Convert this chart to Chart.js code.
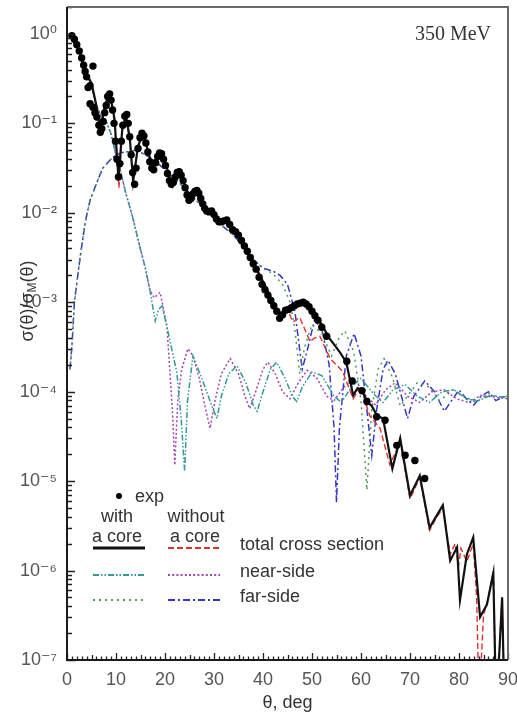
<!DOCTYPE html>
<html><head><meta charset="utf-8">
<script src="https://cdn.jsdelivr.net/npm/chart.js@4.4.1/dist/chart.umd.min.js"></script>
<style>html,body{margin:0;padding:0;background:#fff;}#wrap{position:relative;width:517px;height:716px;}</style>
</head><body><div id="wrap"><canvas id="c" width="517" height="716"></canvas></div>
<script>
// ---- data (theta in deg, values given as log10 of sigma/sigma_M) ----
const expTheta = [1.0,1.5,2.0,2.5,3.0,3.4,3.7,4.0,4.3,4.7,4.7,5.3,5.3,5.7,6.1,6.5,6.8,7.1,7.4,7.7,8.0,8.3,8.7,9.0,9.3,9.6,9.9,10.2,10.5,10.8,11.1,11.4,11.8,12.2,12.5,12.8,13.1,13.4,13.8,14.1,14.5,14.9,15.3,15.7,16.1,16.5,16.9,17.3,17.7,18.1,18.5,18.9,19.3,19.7,20.1,20.5,20.9,21.3,21.7,22.1,22.5,22.9,23.3,23.7,24.1,24.5,24.9,25.3,25.7,26.1,26.5,26.9,27.3,27.7,28.1,28.5,29.0,29.5,30.0,30.5,31.0,31.5,32.0,32.6,33.2,33.8,34.4,35.0,35.6,36.2,36.8,37.4,38.0,38.6,39.2,39.8,40.4,41.0,41.6,42.2,42.8,43.4,44.0,44.6,45.2,45.8,46.4,47.0,47.6,48.2,48.8,49.4,50.0,50.6,51.2,52.0,53.0,57.1,58.2,60.2,61.2,63.2,64.9,67.3,69.0,71.0,73.0];
const expLog10 = [-0.02,-0.06,-0.12,-0.19,-0.27,-0.35,-0.42,-0.48,-0.6,-0.58,-0.78,-0.36,-0.82,-0.88,-0.93,-1.02,-1.1,-1.06,-0.98,-0.88,-0.8,-0.7,-0.67,-0.74,-0.85,-1.0,-1.2,-1.4,-1.6,-1.45,-1.2,-1.02,-0.92,-0.9,-1.0,-1.15,-1.35,-1.55,-1.68,-1.5,-1.28,-1.16,-1.11,-1.14,-1.22,-1.32,-1.43,-1.5,-1.52,-1.44,-1.37,-1.33,-1.34,-1.4,-1.47,-1.56,-1.64,-1.68,-1.66,-1.6,-1.55,-1.54,-1.58,-1.64,-1.72,-1.8,-1.86,-1.84,-1.79,-1.76,-1.75,-1.78,-1.84,-1.9,-1.95,-1.98,-1.99,-1.98,-2.02,-2.07,-2.1,-2.1,-2.09,-2.08,-2.13,-2.19,-2.21,-2.25,-2.31,-2.37,-2.43,-2.5,-2.57,-2.63,-2.72,-2.8,-2.86,-2.92,-2.98,-3.04,-3.1,-3.18,-3.14,-3.09,-3.08,-3.06,-3.04,-3.02,-3.01,-3.0,-3.02,-3.05,-3.1,-3.15,-3.2,-3.28,-3.38,-3.66,-3.88,-3.99,-4.11,-4.28,-4.32,-4.6,-4.71,-4.77,-4.97];

const totCoreTheta = [0.5,1,2,3,4,5,6,6.8,7.8,8.8,9.7,10.5,11.3,12,12.8,13.5,14.5,15.5,16.5,17.6,18.4,19.2,20.3,21.5,22.3,23,24,25,25.8,26.7,27.6,28.5,29.5,31.2,32.6,34,35.3,36.7,38,39.4,41,42.5,43.5,44.9,46.5,47.5,49,50.5,52.2,53.5,55.7,57,58.4,59.3,60.2,61.2,62.2,63.3,64.5,66.4,68,70,72,74,75.5,76.7,78.2,79.6,80.2,81.6,82.9,84.3,85.7,87,87.6,88.8,89.3];
const totCoreLog10 = [0,-0.01,-0.12,-0.27,-0.45,-0.55,-0.8,-1.08,-0.78,-0.68,-0.95,-1.62,-1.05,-0.92,-1.15,-1.65,-1.25,-1.12,-1.3,-1.52,-1.38,-1.33,-1.48,-1.7,-1.6,-1.55,-1.68,-1.86,-1.8,-1.75,-1.88,-1.97,-1.99,-2.11,-2.1,-2.19,-2.27,-2.41,-2.56,-2.7,-2.88,-3.05,-3.15,-3.08,-3.05,-3.0,-3.02,-3.12,-3.27,-3.4,-3.56,-3.67,-4.04,-3.96,-3.98,-4.11,-4.16,-4.27,-4.3,-4.86,-4.52,-5.16,-4.94,-5.52,-5.38,-5.27,-5.89,-5.74,-6.33,-5.82,-5.63,-6.52,-6.38,-6.03,-7.6,-6.3,-7.6];

const totNoCoreTheta = [0.5,1,2,3,4,5,6,6.8,7.8,8.8,9.7,10.6,11.3,12,12.8,13.5,14.5,15.5,16.5,17.6,18.4,19.2,20.3,21.5,22.3,23,24,25,25.8,26.7,27.6,28.5,29.5,31.2,32.6,34,35.3,36.7,38,39.4,41,42.5,43.5,45,46.1,47.5,49.6,50.5,51.6,53.7,55,56.3,58.4,59.5,60.5,61.8,63.9,65.9,68,70,72,74,75.5,76.7,78.2,79.2,79.9,80.4,81.6,82.9,83.6,84.1,85,86,87,87.6,88.8,89.3];
const totNoCoreLog10 = [0,-0.01,-0.12,-0.27,-0.45,-0.55,-0.82,-1.1,-0.8,-0.7,-1.0,-1.72,-1.08,-0.94,-1.18,-1.62,-1.27,-1.14,-1.32,-1.5,-1.4,-1.35,-1.5,-1.7,-1.62,-1.57,-1.7,-1.86,-1.82,-1.77,-1.9,-1.98,-2.0,-2.13,-2.12,-2.21,-2.3,-2.44,-2.58,-2.72,-2.9,-3.05,-3.12,-3.08,-3.22,-3.17,-3.44,-3.4,-3.38,-3.63,-3.7,-3.78,-4.08,-3.98,-4.05,-4.27,-4.41,-4.82,-4.56,-5.2,-4.96,-5.55,-5.4,-5.3,-5.82,-5.7,-5.95,-5.75,-5.9,-5.7,-6.3,-7.5,-6.5,-6.3,-6.0,-7.6,-6.3,-7.6];

const nearCoreTheta = [0.5,1,2,3,4,5,6,7,8,9,10,11,12,13.5,15,16,16.9,17.5,18,18.7,19.4,20.5,22.4,23.3,24,24.6,25.7,27.5,29.5,30.6,31.5,33,34.7,36.5,38,38.8,40,41.5,42.8,44.5,46,46.9,48,50,52,54.5,56,58,60,62.5,64.5,66.5,69,71.5,74,76.5,79,81.5,84,86.5,90];
const nearCoreLog10 = [0,-0.01,-0.12,-0.27,-0.45,-0.58,-0.8,-0.92,-0.98,-1.12,-1.36,-1.55,-1.78,-2.07,-2.41,-2.62,-2.86,-3.05,-3.21,-3.08,-3.04,-3.3,-3.78,-4.3,-4.89,-4.1,-3.6,-3.85,-4.15,-4.3,-4.05,-3.8,-3.71,-3.9,-4.15,-4.22,-4.0,-3.75,-3.67,-3.85,-4.05,-4.11,-3.95,-3.78,-3.82,-4.05,-4.12,-3.95,-3.85,-4.02,-4.12,-3.98,-3.92,-4.05,-4.12,-4.0,-3.98,-4.08,-4.1,-4.04,-4.07];

const nearNoCoreTheta = [0.5,1,2,3,4,5,6,7,8,9,10,11,12,13.5,15,16,16.9,17.8,19,20.4,21,21.6,22,22.6,23.4,24.7,25.7,27,28.3,29.2,30.2,31.5,33.3,35,36.3,37.3,38.5,40,41,42.5,44,45.5,47,49,51,53,54.5,56.5,58.5,61,63,65,67,69.5,72,74.5,77,79.5,82,84.5,87,90];
const nearNoCoreLog10 = [0,-0.01,-0.12,-0.27,-0.45,-0.58,-0.8,-0.92,-0.98,-1.12,-1.36,-1.55,-1.78,-2.07,-2.41,-2.62,-2.86,-2.95,-2.89,-3.27,-3.78,-4.3,-4.82,-4.1,-3.75,-3.52,-3.6,-3.85,-4.2,-4.41,-4.1,-3.8,-3.63,-3.8,-4.05,-4.19,-4.0,-3.75,-3.67,-3.8,-4.0,-4.08,-3.92,-3.76,-3.85,-4.05,-4.1,-3.95,-3.85,-4.05,-4.15,-3.98,-3.9,-4.05,-4.12,-4.0,-3.98,-4.08,-4.12,-4.04,-4.06,-4.08];

const farCoreTheta = [0.6,1.0,1.5,2.7,3.7,4.7,6.1,7.3,8.8,9.8,11,12,14,16,18,20,22,24,26,28,30,32,34,36,38,40,42,44,45.5,46.5,47.5,48.5,50,52,54,55.5,56.7,58.5,60,61.2,62.2,63.5,64.7,66.5,68,69.5,71.5,74,76,78.8,81,83.5,86,88,90];
const farCoreLog10 = [-3.75,-3.5,-3.0,-2.49,-2.11,-1.86,-1.66,-1.5,-1.41,-1.36,-1.33,-1.32,-1.3,-1.35,-1.42,-1.52,-1.62,-1.72,-1.84,-1.95,-2.06,-2.16,-2.25,-2.38,-2.52,-2.62,-2.68,-2.8,-3.0,-3.3,-3.8,-3.5,-3.25,-3.35,-3.6,-3.4,-3.32,-3.55,-4.1,-5.1,-4.2,-3.75,-3.63,-3.85,-4.16,-4.05,-3.9,-3.95,-4.1,-3.98,-4.05,-4.12,-4.02,-4.06,-4.05];

const farNoCoreTheta = [0.6,1.0,1.5,2.7,3.7,4.7,6.1,7.3,8.8,9.8,11,12,14,16,18,20,22,24,26,28,30,32,34,36,38,40,42,43.5,45,46.5,48,49.2,50.5,52,53.5,54.5,55,55.6,57,58.6,60,61.2,62.2,63.2,64.5,65.5,67,68.5,69.5,70.8,73,75,77,78.5,80,81.5,83,84.5,86,87.5,89,90];
const farNoCoreLog10 = [-3.75,-3.5,-3.0,-2.49,-2.11,-1.86,-1.66,-1.5,-1.41,-1.36,-1.33,-1.32,-1.3,-1.35,-1.42,-1.52,-1.62,-1.72,-1.84,-1.95,-2.06,-2.16,-2.25,-2.38,-2.52,-2.62,-2.65,-2.7,-2.8,-3.1,-3.75,-3.5,-3.2,-3.3,-3.7,-4.4,-5.24,-4.4,-3.6,-3.35,-3.6,-4.2,-4.71,-4.2,-3.75,-3.65,-3.8,-4.1,-4.3,-4.05,-3.88,-4.0,-4.22,-4.1,-3.98,-4.08,-4.15,-4.05,-4.0,-4.1,-4.06,-4.05];

const yDecades = [-7,-6,-5,-4,-3,-2,-1,0];
const xTickValues = [0,10,20,30,40,50,60,70,80,90];

const pts = (xs, ls) => xs.map((x, i) => ({x: x, y: Math.pow(10, ls[i])}));
const SUP = {'0':'⁰','1':'¹','2':'²','3':'³','4':'⁴','5':'⁵','6':'⁶','7':'⁷','8':'⁸','9':'⁹','-':'⁻'};
const supStr = s => String(s).split('').map(c => SUP[c] || c).join('');
const FONT = "'Liberation Sans', Arial, 'DejaVu Sans', sans-serif";

const line = (label, xs, ls, color, width, dash, order) => ({
  label, data: pts(xs, ls), showLine: true, borderColor: color, backgroundColor: color,
  borderWidth: width, borderDash: dash, pointRadius: 0, tension: 0, order
});

const datasets = [
  {label: 'exp', data: pts(expTheta, expLog10), showLine: false, pointRadius: 3.7,
   pointBackgroundColor: '#000', pointBorderColor: '#000', pointBorderWidth: 0, order: 0},
  line('total cross section, with a core', totCoreTheta, totCoreLog10, '#111111', 2.2, [], 1),
  line('total cross section, without a core', totNoCoreTheta, totNoCoreLog10, '#e0302c', 1.4, [6, 3], 2),
  line('near-side, with a core', nearCoreTheta, nearCoreLog10, '#2f9a98', 1.5, [6, 2, 1.5, 2, 1.5, 2], 3),
  line('near-side, without a core', nearNoCoreTheta, nearNoCoreLog10, '#a545b0', 1.5, [2, 2.2], 4),
  line('far-side, with a core', farCoreTheta, farCoreLog10, '#4f9a58', 1.5, [2, 4], 5),
  line('far-side, without a core', farNoCoreTheta, farNoCoreLog10, '#3535c8', 1.5, [7, 3, 2, 3], 6)
];

const decoration = {
  id: 'decoration',
  afterDraw(chart) {
    const ctx = chart.ctx, a = chart.chartArea, xs = chart.scales.x, ys = chart.scales.y;
    ctx.save();
    // ticks (inside)
    ctx.strokeStyle = '#222'; ctx.lineWidth = 1.3;
    ctx.beginPath();
    for (let d = -7; d <= 0; d++) {
      for (let m = 1; m <= 9; m++) {
        const v = m * Math.pow(10, d);
        if (v > 2) continue;
        const y = Math.round(ys.getPixelForValue(v)) + 0.5;
        const len = m === 1 ? 8 : 5;
        ctx.moveTo(a.left, y); ctx.lineTo(a.left + len, y);
      }
    }
    for (let t = 0; t <= 90; t++) {
      const x = Math.round(xs.getPixelForValue(t)) + 0.5;
      const len = t % 10 === 0 ? 7 : (t % 5 === 0 ? 5 : 3.5);
      ctx.moveTo(x, a.bottom); ctx.lineTo(x, a.bottom - len);
    }
    ctx.stroke();
    // frame
    ctx.lineWidth = 2;
    ctx.strokeStyle = '#6a6a6a';
    ctx.beginPath(); ctx.moveTo(a.left, a.top); ctx.lineTo(a.right, a.top); ctx.lineTo(a.right, a.bottom); ctx.stroke();
    ctx.strokeStyle = '#1a1a1a';
    ctx.beginPath(); ctx.moveTo(a.left, a.top); ctx.lineTo(a.left, a.bottom); ctx.lineTo(a.right, a.bottom); ctx.stroke();

    // energy annotation
    ctx.fillStyle = '#333';
    ctx.font = "20px 'Liberation Serif', 'Times New Roman', serif";
    ctx.textAlign = 'center'; ctx.textBaseline = 'middle';
    ctx.fillText('350 MeV', 453, 35);

    // y-axis title with subscript
    ctx.save();
    ctx.translate(28, 301); ctx.rotate(-Math.PI / 2);
    const parts = [['σ(θ)/σ', 18, 0], ['M', 12, 5], ['(θ)', 18, 0]];
    let w = 0;
    parts.forEach(p => { ctx.font = p[1] + 'px ' + FONT; w += ctx.measureText(p[0]).width; });
    let px = -w / 2;
    ctx.textAlign = 'left'; ctx.fillStyle = '#333';
    parts.forEach(p => { ctx.font = p[1] + 'px ' + FONT; ctx.fillText(p[0], px, p[2]); px += ctx.measureText(p[0]).width; });
    ctx.restore();

    // legend
    const ds = chart.data.datasets;
    ctx.font = '18px ' + FONT; ctx.textBaseline = 'middle';
    ctx.fillStyle = '#000';
    ctx.beginPath(); ctx.arc(119, 496, 3, 0, Math.PI * 2); ctx.fill();
    ctx.fillStyle = '#333'; ctx.textAlign = 'left';
    ctx.fillText('exp', 135, 497);
    ctx.textAlign = 'center';
    ctx.fillText('with', 117, 517); ctx.fillText('a core', 117, 537);
    ctx.fillText('without', 196, 517); ctx.fillText('a core', 195, 537);
    const rows = [[1, 2, 548, 545, 'total cross section'], [3, 4, 575, 572, 'near-side'], [5, 6, 600, 597, 'far-side']];
    rows.forEach(r => {
      [[r[0], 93, 145], [r[1], 168, 220]].forEach(s => {
        const d = ds[s[0]];
        ctx.save();
        ctx.strokeStyle = d.borderColor;
        ctx.lineWidth = s[0] === 1 ? 3 : 1.8;
        ctx.setLineDash(d.borderDash);
        ctx.beginPath(); ctx.moveTo(s[1], r[2]); ctx.lineTo(s[2], r[2]); ctx.stroke();
        ctx.restore();
      });
      ctx.textAlign = 'left'; ctx.fillStyle = '#333';
      ctx.fillText(r[4], 240, r[3]);
    });
    ctx.restore();
  }
};

new Chart(document.getElementById('c'), {
  type: 'scatter',
  data: {datasets},
  options: {
    responsive: false, animation: false, devicePixelRatio: 1,
    layout: {padding: {top: 7, right: 9, left: 0, bottom: 0}},
    plugins: {legend: {display: false}, tooltip: {enabled: false}},
    scales: {
      x: {
        type: 'linear', min: 0, max: 90,
        grid: {display: false, drawTicks: false}, border: {display: false},
        afterBuildTicks: s => { s.ticks = xTickValues.map(v => ({value: v})); },
        afterFit: s => { s.height = 56; s.paddingLeft = 0; s.paddingRight = 0; },
        ticks: {autoSkip: false, maxRotation: 0, padding: 9, color: '#555',
                font: {size: 18, family: FONT}, callback: v => String(v)},
        title: {display: true, text: 'θ, deg', color: '#333', font: {size: 18, family: FONT},
                padding: {top: 0, bottom: 2}}
      },
      y: {
        type: 'logarithmic', min: 1e-7, max: 2,
        grid: {display: false, drawTicks: false}, border: {display: false},
        afterBuildTicks: s => { s.ticks = yDecades.map(e => ({value: Math.pow(10, e), major: true})); },
        afterFit: s => { s.width = 67; s.paddingTop = 0; s.paddingBottom = 0; },
        ticks: {autoSkip: false, padding: 10, color: '#555', font: {size: 18, family: FONT},
                callback: v => '10' + supStr(Math.round(Math.log10(v)))}
      }
    }
  },
  plugins: [decoration]
});
</script>
</body></html>
